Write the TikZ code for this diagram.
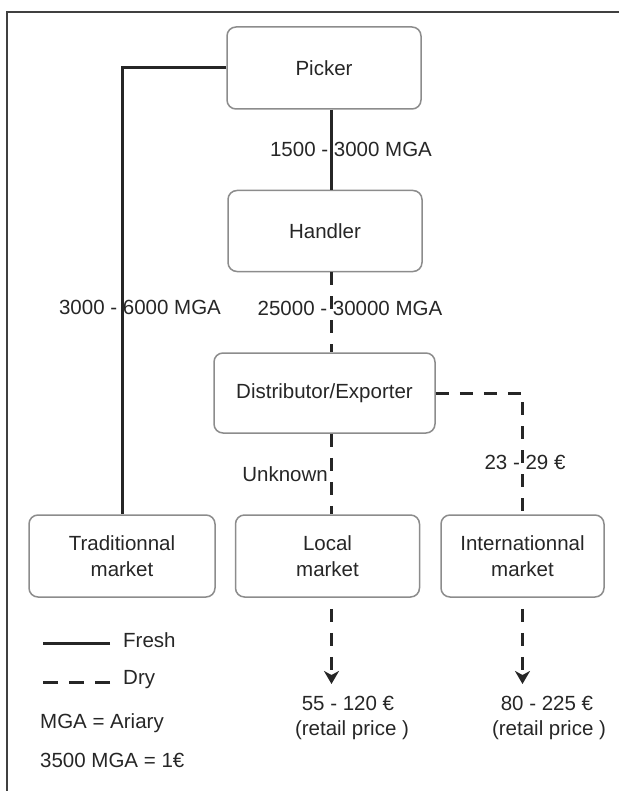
\documentclass[tikz,border=0pt]{standalone}
\usepackage{fontspec}
\setmainfont{Liberation Sans}
\usetikzlibrary{arrows.meta}

\begin{document}
\begin{tikzpicture}[x=1pt, y=-1pt,
  every node/.style={text=black!85, font=\fontsize{20.5}{26}\selectfont},
  box/.style={draw=black!45, line width=1.5pt, rounded corners=9pt, inner sep=0pt,
    minimum height=82pt, align=center},
  fresh/.style={line width=3pt, black!85},
  dry/.style={line width=3pt, black!85, dash pattern=on 13pt off 11pt},
  tip/.style={-{Stealth[length=13pt, width=15pt, inset=4pt]}}]
\useasboundingbox (0,0) rectangle (619,791);
\draw [line width=2pt, black!75] (619,12) -- (7,12) -- (7,791);
% actors
\node (picker) at (324,68) [box, minimum width=194pt] {Picker};
\node (handler) at (325,231) [box, minimum width=194pt, minimum height=81pt] {Handler};
\node (distrib) at (324.5,393) [box, minimum width=221pt, minimum height=80pt] {Distributor/Exporter};
\node (trad) at (122,556) [box, minimum width=186pt] {Traditionnal\\market};
\node (local) at (327.5,556) [box, minimum width=184pt] {Local\\market};
\node (intl) at (522.5,556) [box, minimum width=163pt] {Internationnal\\market};
\coordinate (localend) at (331.5,684);
\coordinate (intlend) at (522.5,684);
% flows
\draw [fresh] (picker.west) -| (trad.north);
\draw [fresh] ([xshift=7.5pt]picker.south) -- ([xshift=6.5pt]handler.north);
\draw [dry] ([xshift=6.5pt]handler.south) -- ([xshift=7pt]distrib.north);
\draw [dry] ([xshift=7pt]distrib.south) -- ([xshift=4pt]local.north);
\draw [dry] (distrib.east) -| (intl.north);
\draw [dry, tip, dash phase=13pt] ([xshift=4pt]local.south) -- (localend);
\draw [dry, tip, dash phase=13pt] (intl.south) -- (intlend);
% prices
\node (p1) at (351,149) {1500 - 3000 MGA};
\node (p2) at (350,308) {25000 - 30000 MGA};
\node (p3) at (140,307) {3000 - 6000 MGA};
\node (p4) at (328,474) [anchor=east, inner sep=0pt] {Unknown};
\node (p5) at (525,462) {23 - 29 €};
\node (p6) at (348,703) {55 - 120 €};
\node (r6) at (352,730) {(retail price )};
\node (p7) at (547,703) {80 - 225 €};
\node (r7) at (549,730) {(retail price )};
% legend
\node (fresh) at (123,640) [anchor=west, inner sep=0pt] {Fresh};
\node (dry) at (123,680) [anchor=west, inner sep=0pt] {Dry};
\draw [fresh] ([xshift=-13pt, yshift=-3pt]fresh.west) -- ++(-67,0);
\draw [dry, dash pattern=on 15pt off 11pt] ([xshift=-13pt, yshift=-2pt]dry.west) -- ++(-67,0);
\node (mga) at (40,723) [anchor=west, inner sep=0pt] {MGA = Ariary};
\node (rate) at (40,760) [anchor=west, inner sep=0pt] {3500 MGA = 1€};
\end{tikzpicture}
\end{document}
